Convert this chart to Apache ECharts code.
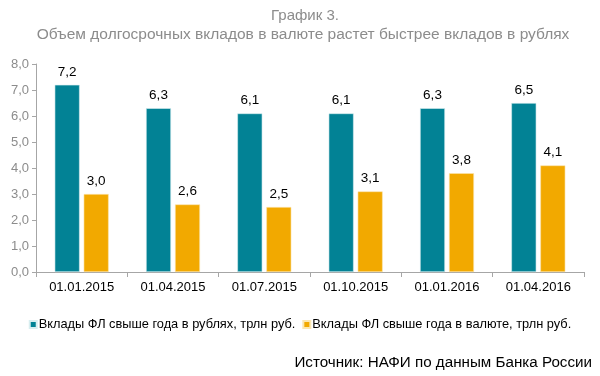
<!DOCTYPE html>
<html>
<head>
<meta charset="utf-8">
<script src="https://cdn.jsdelivr.net/npm/echarts@6/dist/echarts.min.js"></script>
<style>
  html, body { margin: 0; padding: 0; background: #fff; }
  #chart { width: 600px; height: 376px; }
</style>
</head>
<body>
<div id="chart"></div>
<script>
const dates = ['01.01.2015', '01.04.2015', '01.07.2015', '01.10.2015', '01.01.2016', '01.04.2016'];
const rubDeposits = [7.2, 6.3, 6.1, 6.1, 6.3, 6.5];
const fxDeposits = [3.0, 2.6, 2.5, 3.1, 3.8, 4.1];
const yTicks = [0, 1, 2, 3, 4, 5, 6, 7, 8];

const font = '"Liberation Sans", Arial, sans-serif';
const fmt = v => v.toFixed(1).replace('.', ',');

const chart = echarts.init(document.getElementById('chart'));
chart.setOption({
    animation: false,
    textStyle: { fontFamily: font },
    title: [{
        text: 'График 3.',
        left: 300, top: 3, textAlign: 'center',
        textStyle: { fontFamily: font, fontSize: 15, fontWeight: 'normal', color: '#8c8c8c' }
    }, {
        text: 'Объем долгосрочных вкладов в валюте растет быстрее вкладов в рублях',
        left: 298, top: 22, textAlign: 'center',
        textStyle: { fontFamily: font, fontSize: 15.5, fontWeight: 'normal', color: '#8c8c8c' }
    }, {
        text: 'Источник: НАФИ по данным Банка России',
        right: 3, top: 350,
        textStyle: { fontFamily: font, fontSize: 15.2, fontWeight: 'normal', color: '#000' }
    }],
    legend: {
        top: 313, left: 'center',
        itemWidth: 7, itemHeight: 7, itemGap: 7,
        icon: 'rect',
        textStyle: { fontFamily: font, fontSize: 12.8, color: '#000', padding: [0, 0, 0, -3] }
    },
    grid: { left: 36, right: 16, top: 64, bottom: 104, containLabel: false },
    xAxis: {
        type: 'category',
        data: dates,
        axisLine: { lineStyle: { color: '#a6a6a6' } },
        axisTick: { show: true, alignWithLabel: false, length: 5, lineStyle: { color: '#a6a6a6' } },
        axisLabel: { color: '#000', fontSize: 13, margin: 9, fontFamily: font }
    },
    yAxis: {
        type: 'value',
        min: yTicks[0], max: yTicks[yTicks.length - 1], interval: 1,
        axisLine: { show: true, lineStyle: { color: '#a6a6a6' } },
        axisTick: { show: true, length: 4, inside: false, lineStyle: { color: '#a6a6a6' } },
        splitLine: { show: false },
        axisLabel: { color: '#8c8c8c', fontSize: 13, margin: 7, fontFamily: font, formatter: fmt }
    },
    series: [{
        name: 'Вклады ФЛ свыше года в рублях, трлн руб.',
        type: 'bar',
        data: rubDeposits,
        barWidth: 25,
        barGap: '16%',
        itemStyle: { color: '#028295', borderColor: '#d8eef0', borderWidth: 0.6 },
        label: { show: true, position: 'top', distance: 6, color: '#000', fontSize: 13.5, fontFamily: font, formatter: p => fmt(p.value) }
    }, {
        name: 'Вклады ФЛ свыше года в валюте, трлн руб.',
        type: 'bar',
        data: fxDeposits,
        barWidth: 25,
        itemStyle: { color: '#f2a900', borderColor: '#fbe6b0', borderWidth: 0.6 },
        label: { show: true, position: 'top', distance: 6, color: '#000', fontSize: 13.5, fontFamily: font, formatter: p => fmt(p.value) }
    }]
});
</script>
</body>
</html>
